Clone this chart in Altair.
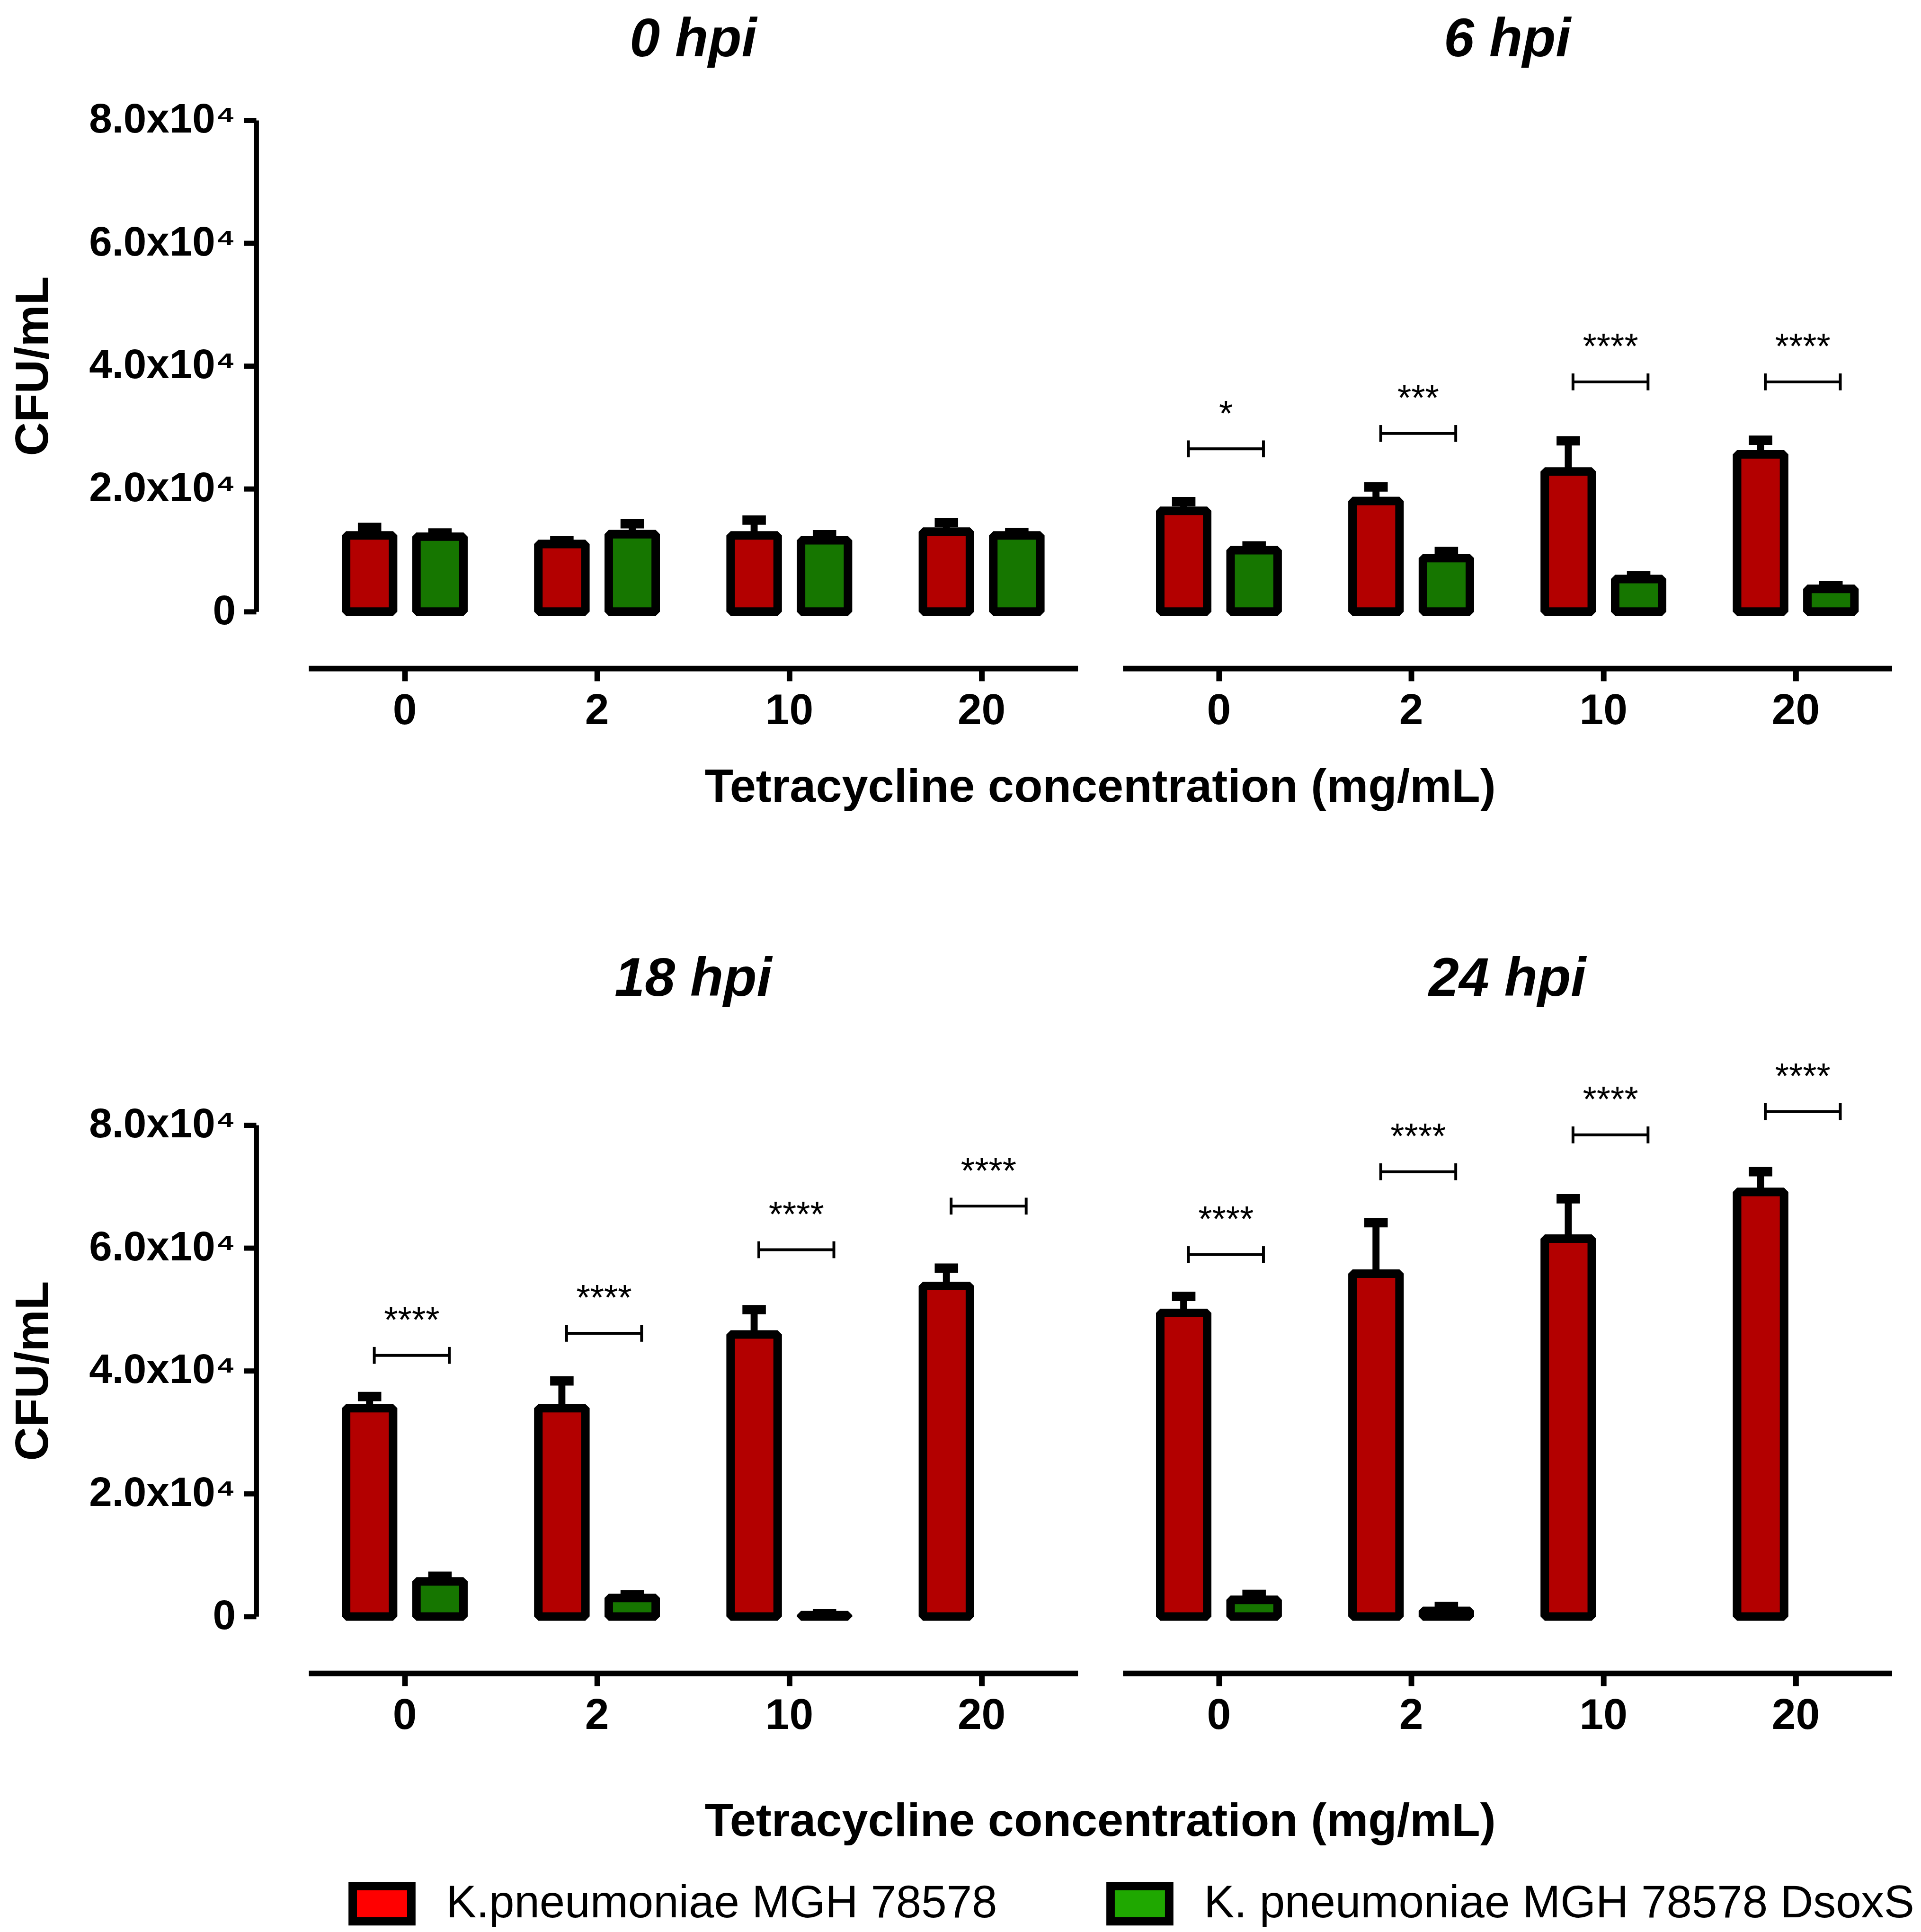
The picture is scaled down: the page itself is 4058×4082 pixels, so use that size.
import altair as alt
import pandas as pd

concentrations = ["0", "2", "10", "20"]
timepoints = ["0 hpi", "6 hpi", "18 hpi", "24 hpi"]
strains = ["K.pneumoniae MGH 78578", "K. pneumoniae MGH 78578 DsoxS"]
strain_colors = ["#ff0000", "#1fa800"]

# mean CFU/mL and SD (upper error bar), per time point, per concentration
wt_mean = {
    "0 hpi": [12400, 11000, 12400, 13000],
    "6 hpi": [16400, 18000, 22800, 25600],
    "18 hpi": [33900, 33900, 45900, 53800],
    "24 hpi": [49400, 55800, 61500, 69100],
}
wt_sd = {
    "0 hpi": [1300, 500, 2500, 1500],
    "6 hpi": [1500, 2300, 5000, 2300],
    "18 hpi": [1900, 4450, 4050, 2900],
    "24 hpi": [2700, 8300, 6500, 3300],
}
mut_mean = {
    "0 hpi": [12200, 12600, 11600, 12400],
    "6 hpi": [10000, 8700, 5300, 3700],
    "18 hpi": [5700, 3000, 200, None],
    "24 hpi": [2700, 900, None, None],
}
mut_sd = {
    "0 hpi": [600, 1700, 900, 500],
    "6 hpi": [700, 1100, 500, 500],
    "18 hpi": [850, 500, 300, None],
    "24 hpi": [900, 700, None, None],
}
sig_labels = {
    "6 hpi": ["*", "***", "****", "****"],
    "18 hpi": ["****", "****", "****", "****"],
    "24 hpi": ["****", "****", "****", "****"],
}
sig_heights = {
    "6 hpi": [26500, 29000, 37400, 37400],
    "18 hpi": [42500, 46100, 59700, 66800],
    "24 hpi": [58900, 72400, 78400, 82200],
}

rows = []
for t in timepoints:
    for i, c in enumerate(concentrations):
        for s, means, sds in ((strains[0], wt_mean, wt_sd), (strains[1], mut_mean, mut_sd)):
            m = means[t][i]
            if m is None:
                continue
            sd = sds[t][i]
            rows.append(dict(kind="bar", hpi=t, conc=c, strain=s, mean=m, sd=sd, top=m + sd))
    if t in sig_labels:
        for i, c in enumerate(concentrations):
            rows.append(dict(kind="sig", hpi=t, conc=c, strain=strains[0],
                             sigy=sig_heights[t][i], stars=sig_labels[t][i]))
df = pd.DataFrame(rows)

FONT = "Liberation Sans, Arial, sans-serif"

x_enc = alt.X(
    "conc:N", sort=concentrations,
    scale=alt.Scale(paddingInner=0, paddingOuter=0),
    title=None,
    axis=alt.Axis(
        labelAngle=0, offset=112, domainWidth=12, domainColor="black",
        tickWidth=12, tickSize=27, tickColor="black",
        labelFont=FONT, labelFontSize=92, labelFontWeight="bold", labelColor="black",
        labelPadding=18, grid=False,
    ),
)
xoff_enc = alt.XOffset("strain:N", sort=strains,
                       scale=alt.Scale(paddingInner=1 / 3, paddingOuter=0.533))
y_axis = alt.Axis(
    values=[0, 20000, 40000, 60000, 80000],
    labelExpr="datum.value == 0 ? '0' : format(datum.value / 10000, '.1f') + 'x10⁴'",
    offset=112, domainWidth=11, domainColor="black", tickWidth=11, tickSize=26,
    tickColor="black", labelFont=FONT, labelFontSize=88, labelFontWeight="bold",
    labelColor="black", labelPadding=18, labelLimit=2000, titleFont=FONT,
    titleFontSize=100, titleFontWeight="bold", titleColor="black", titleX=-424,
    grid=False,
)
y_scale = alt.Scale(domain=[0, 80000], nice=False, zero=True)
color_enc = alt.Color(
    "strain:N", sort=strains,
    scale=alt.Scale(domain=strains, range=strain_colors),
    legend=alt.Legend(
        title=None, orient="none", direction="horizontal", legendX=85, legendY=3732,
        gridAlign="none",
        symbolType="M-1,-0.6H1V0.6H-1Z", symbolSize=15625, symbolStrokeColor="black",
        symbolStrokeWidth=18, symbolOpacity=1,
        labelFont=FONT, labelFontSize=97, labelColor="black", labelOffset=65,
        columnPadding=205, labelLimit=3000,
    ),
)


def panel_row(hpis, title_pad):
    base = alt.Chart()
    bars = base.transform_filter("datum.kind == 'bar'")
    errs = bars.transform_filter("datum.sd > 0")
    sigs = base.transform_filter("datum.kind == 'sig'")

    stems = errs.mark_rule(strokeWidth=15, color="black").encode(
        x=x_enc, xOffset=xoff_enc,
        y=alt.Y("mean:Q", scale=y_scale, axis=y_axis, title="CFU/mL"),
        y2="top:Q",
    )
    caps = errs.mark_tick(thickness=20, size=50, color="black", opacity=1).encode(
        x=x_enc, xOffset=xoff_enc, y=alt.Y("top:Q", scale=y_scale),
    )
    under = bars.mark_bar(fill="black", stroke="black", strokeWidth=18,
                          strokeJoin="bevel").encode(
        x=x_enc, xOffset=xoff_enc, y=alt.Y("mean:Q", scale=y_scale),
    )
    over = bars.mark_bar(fillOpacity=0.7, stroke="black", strokeWidth=18,
                         strokeJoin="bevel").encode(
        x=x_enc, xOffset=xoff_enc, y=alt.Y("mean:Q", scale=y_scale), color=color_enc,
    )
    hline = sigs.mark_tick(thickness=6, size=160, color="black", opacity=1,
                           xOffset=15).encode(
        x=x_enc, y=alt.Y("sigy:Q", scale=y_scale),
    )
    lcap = sigs.mark_tick(orient="vertical", thickness=6, size=36, color="black",
                          opacity=1, xOffset=-65).encode(
        x=x_enc, y=alt.Y("sigy:Q", scale=y_scale),
    )
    rcap = sigs.mark_tick(orient="vertical", thickness=6, size=36, color="black",
                          opacity=1, xOffset=95).encode(
        x=x_enc, y=alt.Y("sigy:Q", scale=y_scale),
    )
    stars = sigs.mark_text(font=FONT, fontSize=76, color="black", baseline="alphabetic",
                           dy=-50, xOffset=15).encode(
        x=x_enc, y=alt.Y("sigy:Q", scale=y_scale), text="stars:N",
    )
    layered = alt.layer(stems, caps, under, over, hline, lcap, rcap, stars).properties(
        width=1640, height=1048
    )
    return layered.facet(
        data=df[df["hpi"].isin(hpis)],
        column=alt.Column(
            "hpi:N", sort=hpis, title="Tetracycline concentration (mg/mL)",
            header=alt.Header(
                labelFont=FONT, labelFontSize=116, labelFontWeight="bold",
                labelFontStyle="italic", labelColor="black", labelPadding=112,
                titleOrient="bottom", titleFont=FONT, titleFontSize=100,
                titleFontWeight="bold", titleColor="black", titlePadding=title_pad,
            ),
        ),
        spacing=96,
    )


chart = alt.vconcat(
    panel_row(["0 hpi", "6 hpi"], 60),
    panel_row(["18 hpi", "24 hpi"], 122),
    spacing=300,
).configure(
    background="white",
    padding={"top": 0, "left": 13, "right": 5, "bottom": 5},
).configure_view(stroke=None)

chart.save("out.html", embed_options={"renderer": "svg", "actions": False})
